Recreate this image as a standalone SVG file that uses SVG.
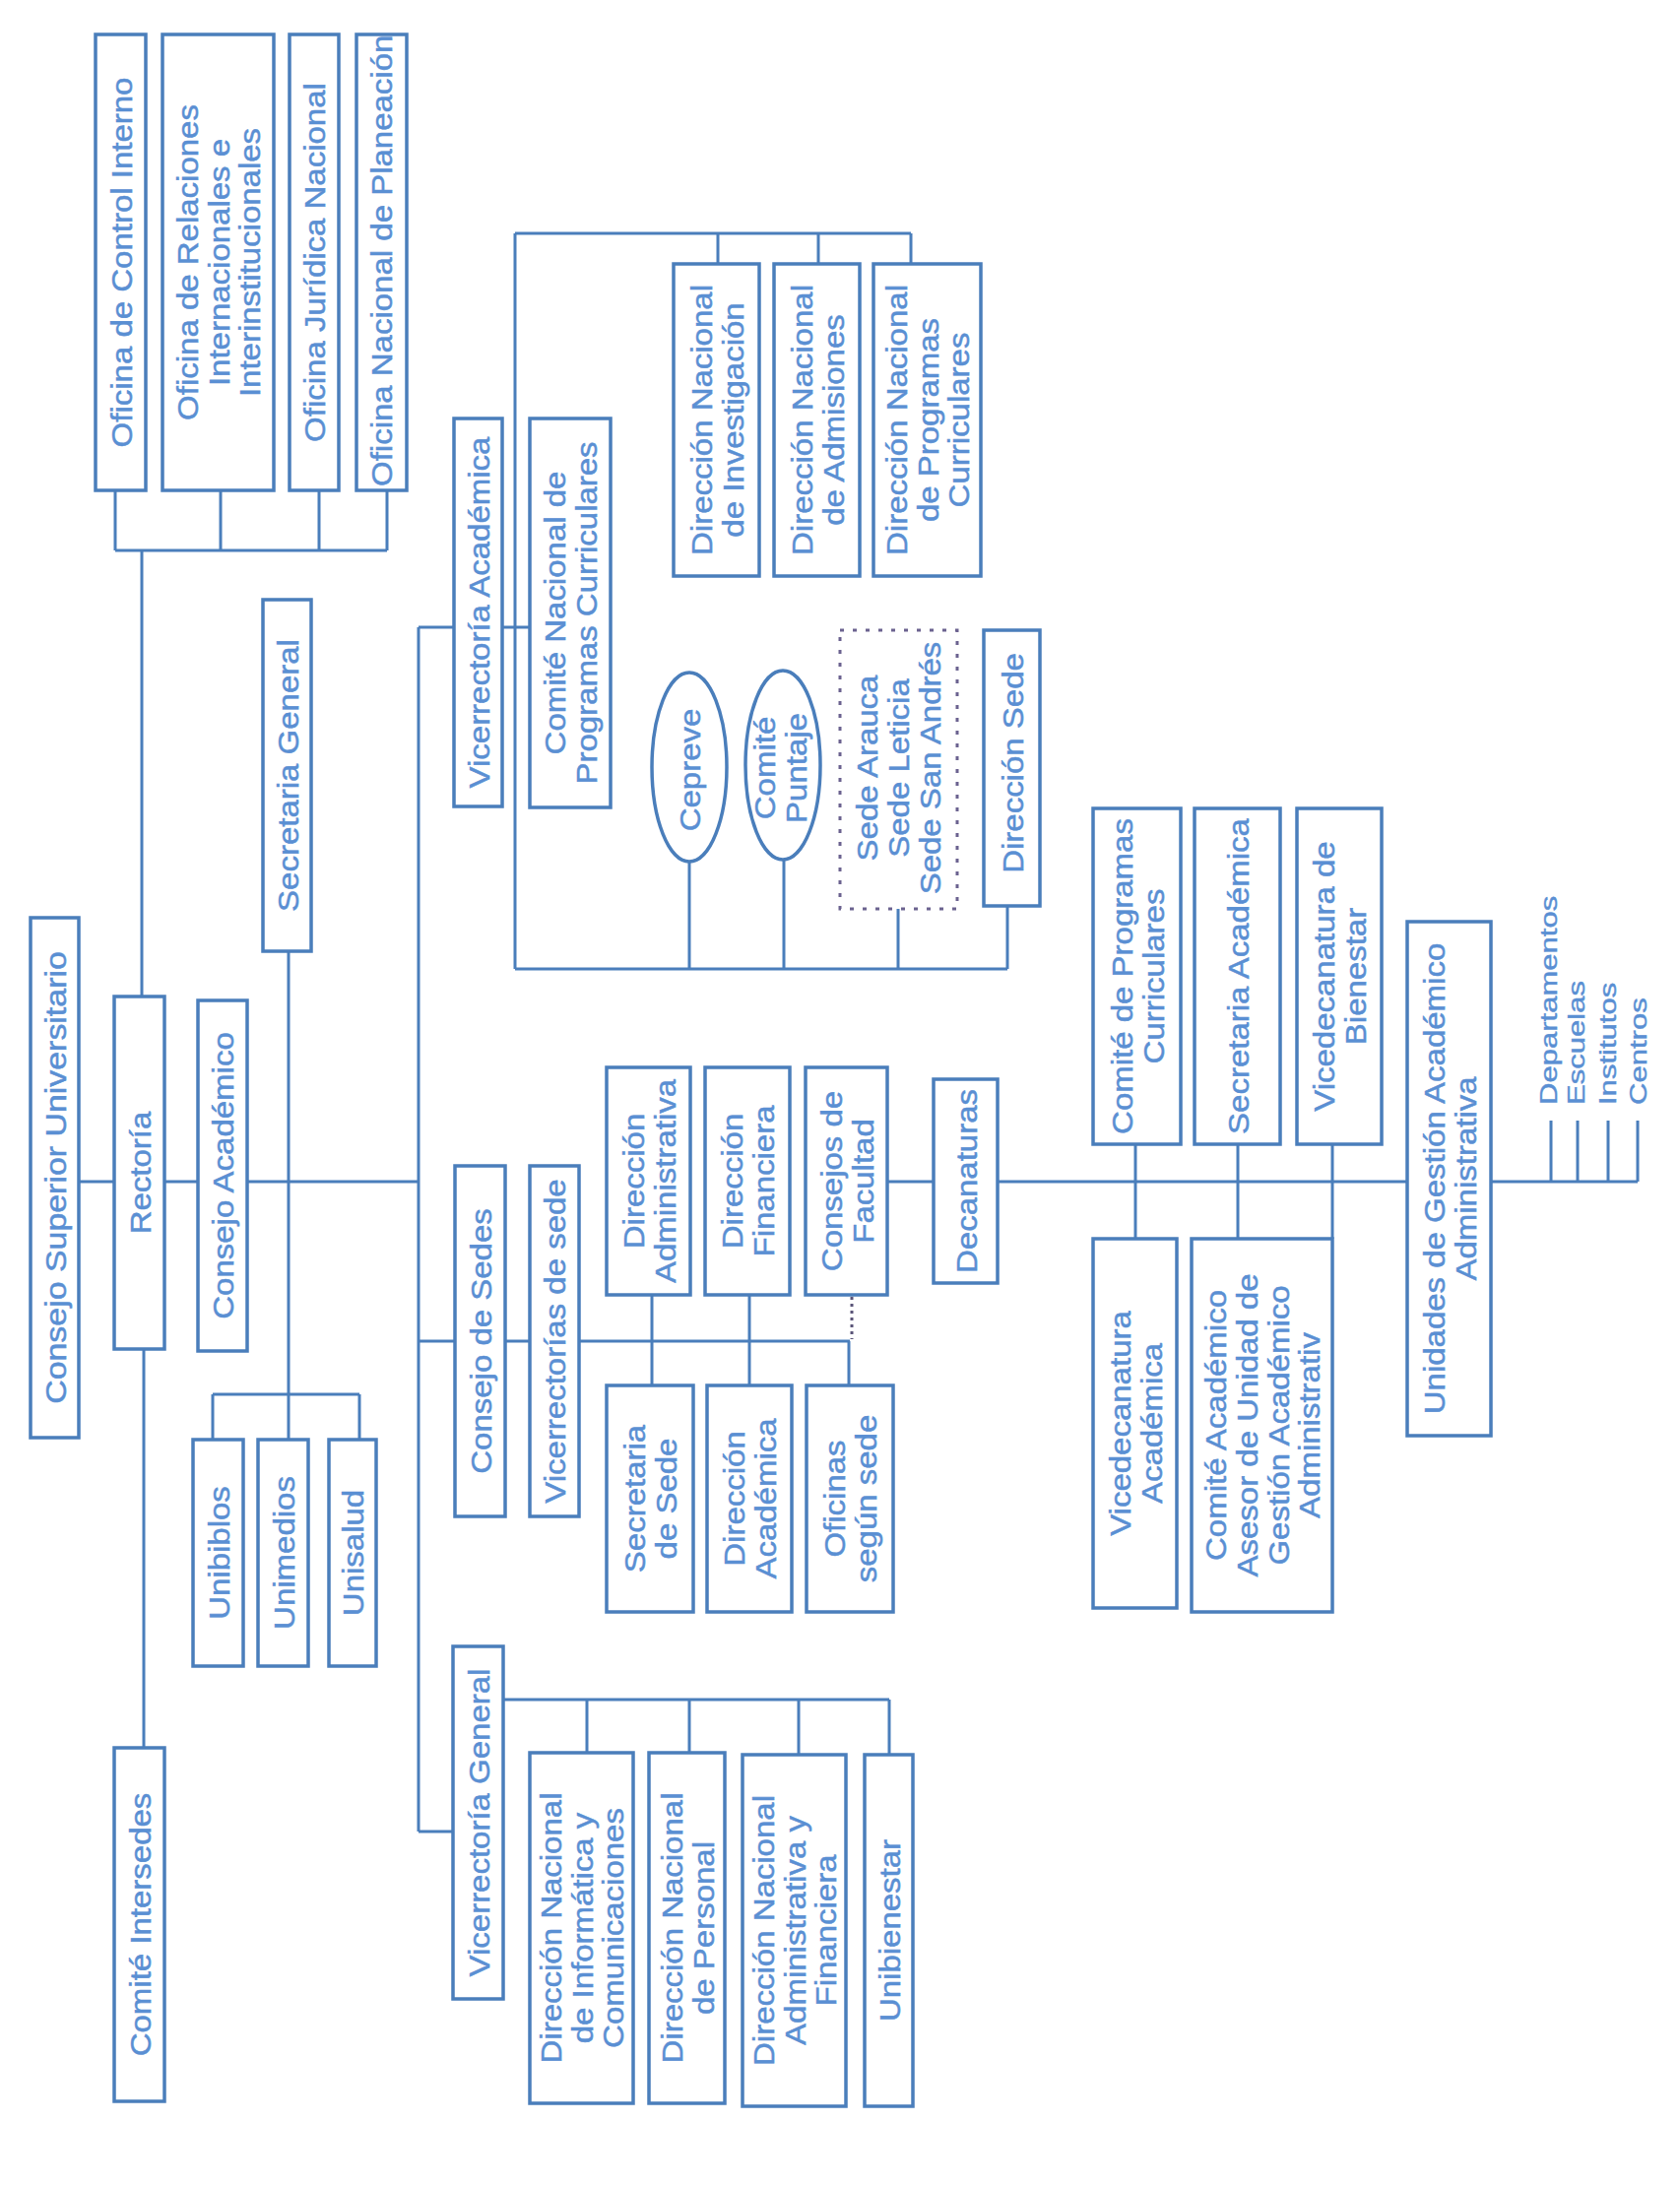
<svg xmlns="http://www.w3.org/2000/svg" width="1706" height="2220" viewBox="0 0 1706 2220">
<style>
.box{fill:#ffffff;stroke:#4a7ebb;stroke-width:3.5}
.dot{fill:#ffffff;stroke:#6b628f;stroke-width:3;stroke-dasharray:4 9}
.ln{stroke:#4a7ebb;stroke-width:3;fill:none}
.dl{stroke:#5a5478;stroke-width:3;fill:none;stroke-dasharray:3 4}
.t{font-family:"Liberation Sans",Arial,sans-serif;font-size:30px;fill:#5a8fd3;stroke:#5a8fd3;stroke-width:0.5;text-anchor:middle}
.s{font-family:"Liberation Sans",Arial,sans-serif;font-size:23px;fill:#5a8fd3;stroke:#5a8fd3;stroke-width:0.4;text-anchor:start}
</style>
<rect x="0" y="0" width="1706" height="2220" fill="#ffffff"/>
<g id="connectors">
<path class="ln" d="M117,498V559M224,498V559M324,498V559M393,498V559M117,559H393M144,559V1012"/>
<path class="ln" d="M80,1200H116M167,1200H201M251,1200H425"/>
<path class="ln" d="M293,966V1416M216,1416H365M216,1416V1462M293,1416V1462M365,1416V1462"/>
<path class="ln" d="M146,1370V1775"/>
<path class="ln" d="M425,637V1860M425,637H461M425,1362H462M425,1860H460"/>
<path class="ln" d="M510,637H538M523,237V984M523,237H925M729,237V268M831,237V268M925,237V268"/>
<path class="ln" d="M523,984H1023M700,875V984M796,873V984M912,923V984M1023,920V984"/>
<path class="ln" d="M513,1362H538M588,1362H863M662,1315V1407M761,1315V1407M862,1362V1407"/>
<path class="dl" d="M865,1317V1360"/>
<path class="ln" d="M901,1200H948M1013,1200H1429M1153,1162V1258M1257,1162V1258M1353,1162V1258"/>
<path class="ln" d="M1514,1200H1663M1575,1200V1138M1602,1200V1138M1633,1200V1138M1663,1200V1138"/>
<path class="ln" d="M511,1726H903M596,1726V1780M700,1726V1780M811,1726V1782M903,1726V1782"/>
</g>
<g id="n1"><rect class="box" x="97" y="35" width="51" height="463"/><text class="t" transform="translate(122.5,266.5) rotate(-90) scale(1.1,1)"><tspan x="0" y="11">Oficina de Control Interno</tspan></text></g>
<g id="n2"><rect class="box" x="165" y="35" width="113" height="463"/><text class="t" transform="translate(221.5,266.5) rotate(-90) scale(1.1,1)"><tspan x="0" y="-21">Oficina de Relaciones</tspan><tspan x="0" y="11">Internacionales e</tspan><tspan x="0" y="43">Interinstitucionales</tspan></text></g>
<g id="n3"><rect class="box" x="294" y="35" width="50" height="463"/><text class="t" transform="translate(319,266.5) rotate(-90) scale(1.1,1)"><tspan x="0" y="11">Oficina Jurídica Nacional</tspan></text></g>
<g id="n4"><rect class="box" x="362" y="35" width="51" height="463"/><text class="t" style="text-anchor:start" transform="translate(387,494) rotate(-90) scale(1.1,1)"><tspan x="0" y="11">Oficina Nacional de Planeación</tspan></text></g>
<g id="n5"><rect class="box" x="267" y="609" width="49" height="357"/><text class="t" transform="translate(291.5,787.5) rotate(-90) scale(1.1,1)"><tspan x="0" y="11">Secretaria General</tspan></text></g>
<g id="n6"><rect class="box" x="31" y="932" width="49" height="528"/><text class="t" transform="translate(55.5,1196) rotate(-90) scale(1.13,1)"><tspan x="0" y="11">Consejo Superior Universitario</tspan></text></g>
<g id="n7"><rect class="box" x="116" y="1012" width="51" height="358"/><text class="t" transform="translate(141.5,1191) rotate(-90) scale(1.1,1)"><tspan x="0" y="11">Rectoría</tspan></text></g>
<g id="n8"><rect class="box" x="201" y="1016" width="50" height="356"/><text class="t" transform="translate(226,1194) rotate(-90) scale(1.1,1)"><tspan x="0" y="11">Consejo Académico</tspan></text></g>
<g id="n9"><rect class="box" x="196" y="1462" width="51" height="230"/><text class="t" transform="translate(221.5,1577) rotate(-90) scale(1.1,1)"><tspan x="0" y="11">Unibiblos</tspan></text></g>
<g id="n10"><rect class="box" x="262" y="1462" width="51" height="230"/><text class="t" transform="translate(287.5,1577) rotate(-90) scale(1.1,1)"><tspan x="0" y="11">Unimedios</tspan></text></g>
<g id="n11"><rect class="box" x="334" y="1462" width="48" height="230"/><text class="t" transform="translate(358,1577) rotate(-90) scale(1.1,1)"><tspan x="0" y="11">Unisalud</tspan></text></g>
<g id="n12"><rect class="box" x="116" y="1775" width="51" height="359"/><text class="t" transform="translate(141.5,1954.5) rotate(-90) scale(1.1,1)"><tspan x="0" y="11">Comité Intersedes</tspan></text></g>
<g id="n13"><rect class="box" x="461" y="425" width="49" height="394"/><text class="t" transform="translate(485.5,622) rotate(-90) scale(1.1,1)"><tspan x="0" y="11">Vicerrectoría Académica</tspan></text></g>
<g id="n14"><rect class="box" x="538" y="425" width="82" height="395"/><text class="t" transform="translate(579,622.5) rotate(-90) scale(1.1,1)"><tspan x="0" y="-5">Comité Nacional de</tspan><tspan x="0" y="27">Programas Curriculares</tspan></text></g>
<g id="n15"><rect class="box" x="684" y="268" width="87" height="317"/><text class="t" transform="translate(727.5,426.5) rotate(-90) scale(1.1,1)"><tspan x="0" y="-5">Dirección Nacional</tspan><tspan x="0" y="27">de Investigación</tspan></text></g>
<g id="n16"><rect class="box" x="786" y="268" width="87" height="317"/><text class="t" transform="translate(829.5,426.5) rotate(-90) scale(1.1,1)"><tspan x="0" y="-5">Dirección Nacional</tspan><tspan x="0" y="27">de Admisiones</tspan></text></g>
<g id="n17"><rect class="box" x="887" y="268" width="109" height="317"/><text class="t" transform="translate(941.5,426.5) rotate(-90) scale(1.1,1)"><tspan x="0" y="-21">Dirección Nacional</tspan><tspan x="0" y="11">de Programas</tspan><tspan x="0" y="43">Curriculares</tspan></text></g>
<g id="n18"><ellipse class="box" cx="700" cy="779" rx="38" ry="96"/><text class="t" transform="translate(700,782) rotate(-90) scale(1.1,1)"><tspan x="0" y="11">Cepreve</tspan></text></g>
<g id="n19"><ellipse class="box" cx="795" cy="777" rx="38" ry="96"/><text class="t" transform="translate(792,780) rotate(-90) scale(1.1,1)"><tspan x="0" y="-5">Comité</tspan><tspan x="0" y="27">Puntaje</tspan></text></g>
<g id="n20"><rect class="dot" x="853" y="640" width="119" height="283"/><text class="t" transform="translate(912,780) rotate(-90) scale(1.1,1)"><tspan x="0" y="-21">Sede Arauca</tspan><tspan x="0" y="11">Sede Leticia</tspan><tspan x="0" y="43">Sede San Andrés</tspan></text></g>
<g id="n21"><rect class="box" x="999" y="640" width="57" height="280"/><text class="t" transform="translate(1027.5,775) rotate(-90) scale(1.1,1)"><tspan x="0" y="11">Dirección Sede</tspan></text></g>
<g id="n22"><rect class="box" x="462" y="1184" width="51" height="356"/><text class="t" transform="translate(487.5,1362) rotate(-90) scale(1.1,1)"><tspan x="0" y="11">Consejo de Sedes</tspan></text></g>
<g id="n23"><rect class="box" x="538" y="1184" width="50" height="356"/><text class="t" transform="translate(563,1362) rotate(-90) scale(1.1,1)"><tspan x="0" y="11">Vicerrectorías de sede</tspan></text></g>
<g id="n24"><rect class="box" x="616" y="1084" width="85" height="231"/><text class="t" transform="translate(658.5,1199.5) rotate(-90) scale(1.1,1)"><tspan x="0" y="-5">Dirección</tspan><tspan x="0" y="27">Administrativa</tspan></text></g>
<g id="n25"><rect class="box" x="716" y="1084" width="86" height="231"/><text class="t" transform="translate(759,1199.5) rotate(-90) scale(1.1,1)"><tspan x="0" y="-5">Dirección</tspan><tspan x="0" y="27">Financiera</tspan></text></g>
<g id="n26"><rect class="box" x="818" y="1084" width="83" height="231"/><text class="t" transform="translate(859.5,1199.5) rotate(-90) scale(1.1,1)"><tspan x="0" y="-5">Consejos de</tspan><tspan x="0" y="27">Facultad</tspan></text></g>
<g id="n27"><rect class="box" x="948" y="1096" width="65" height="207"/><text class="t" transform="translate(980.5,1199.5) rotate(-90) scale(1.1,1)"><tspan x="0" y="11">Decanaturas</tspan></text></g>
<g id="n28"><rect class="box" x="616" y="1407" width="88" height="230"/><text class="t" transform="translate(660,1522) rotate(-90) scale(1.1,1)"><tspan x="0" y="-5">Secretaria</tspan><tspan x="0" y="27">de Sede</tspan></text></g>
<g id="n29"><rect class="box" x="718" y="1407" width="86" height="230"/><text class="t" transform="translate(761,1522) rotate(-90) scale(1.1,1)"><tspan x="0" y="-5">Dirección</tspan><tspan x="0" y="27">Académica</tspan></text></g>
<g id="n30"><rect class="box" x="819" y="1407" width="88" height="230"/><text class="t" transform="translate(863,1522) rotate(-90) scale(1.1,1)"><tspan x="0" y="-5">Oficinas</tspan><tspan x="0" y="27">según sede</tspan></text></g>
<g id="n31"><rect class="box" x="1110" y="821" width="89" height="341"/><text class="t" transform="translate(1154.5,991.5) rotate(-90) scale(1.1,1)"><tspan x="0" y="-5">Comité de Programas</tspan><tspan x="0" y="27">Curriculares</tspan></text></g>
<g id="n32"><rect class="box" x="1213" y="821" width="87" height="341"/><text class="t" transform="translate(1256.5,991.5) rotate(-90) scale(1.1,1)"><tspan x="0" y="11">Secretaria Académica</tspan></text></g>
<g id="n33"><rect class="box" x="1317" y="821" width="86" height="341"/><text class="t" transform="translate(1360,991.5) rotate(-90) scale(1.1,1)"><tspan x="0" y="-5">Vicedecanatura de</tspan><tspan x="0" y="27">Bienestar</tspan></text></g>
<g id="n34"><rect class="box" x="1110" y="1258" width="85" height="375"/><text class="t" transform="translate(1152.5,1445.5) rotate(-90) scale(1.1,1)"><tspan x="0" y="-5">Vicedecanatura</tspan><tspan x="0" y="27">Académica</tspan></text></g>
<g id="n35"><rect class="box" x="1210" y="1258" width="143" height="379"/><text class="t" transform="translate(1281.5,1447.5) rotate(-90) scale(1.1,1)"><tspan x="0" y="-37">Comité Académico</tspan><tspan x="0" y="-5">Asesor de Unidad de</tspan><tspan x="0" y="27">Gestión Académico</tspan><tspan x="0" y="59">Administrativ</tspan></text></g>
<g id="n36"><rect class="box" x="1429" y="936" width="85" height="522"/><text class="t" transform="translate(1471.5,1197) rotate(-90) scale(1.1,1)"><tspan x="0" y="-5">Unidades de Gestión Académico</tspan><tspan x="0" y="27">Administrativa</tspan></text></g>
<g id="n37"><rect class="box" x="460" y="1672" width="51" height="358"/><text class="t" transform="translate(485.5,1851) rotate(-90) scale(1.1,1)"><tspan x="0" y="11">Vicerrectoría General</tspan></text></g>
<g id="n38"><rect class="box" x="538" y="1780" width="105" height="356"/><text class="t" transform="translate(590.5,1958) rotate(-90) scale(1.1,1)"><tspan x="0" y="-21">Dirección Nacional</tspan><tspan x="0" y="11">de Informática y</tspan><tspan x="0" y="43">Comunicaciones</tspan></text></g>
<g id="n39"><rect class="box" x="659" y="1780" width="77" height="356"/><text class="t" transform="translate(697.5,1958) rotate(-90) scale(1.1,1)"><tspan x="0" y="-5">Dirección Nacional</tspan><tspan x="0" y="27">de Personal</tspan></text></g>
<g id="n40"><rect class="box" x="754" y="1782" width="105" height="357"/><text class="t" transform="translate(806.5,1960.5) rotate(-90) scale(1.1,1)"><tspan x="0" y="-21">Dirección Nacional</tspan><tspan x="0" y="11">Administrativa y</tspan><tspan x="0" y="43">Financiera</tspan></text></g>
<g id="n41"><rect class="box" x="878" y="1782" width="49" height="357"/><text class="t" transform="translate(902.5,1960.5) rotate(-90) scale(1.1,1)"><tspan x="0" y="11">Unibienestar</tspan></text></g>
<g id="n42"><text class="s" transform="translate(1581,1122) rotate(-90) scale(1.35,1)">Departamentos</text></g>
<g id="n43"><text class="s" transform="translate(1609,1122) rotate(-90) scale(1.35,1)">Escuelas</text></g>
<g id="n44"><text class="s" transform="translate(1641,1122) rotate(-90) scale(1.35,1)">Institutos</text></g>
<g id="n45"><text class="s" transform="translate(1672,1122) rotate(-90) scale(1.35,1)">Centros</text></g>
</svg>
